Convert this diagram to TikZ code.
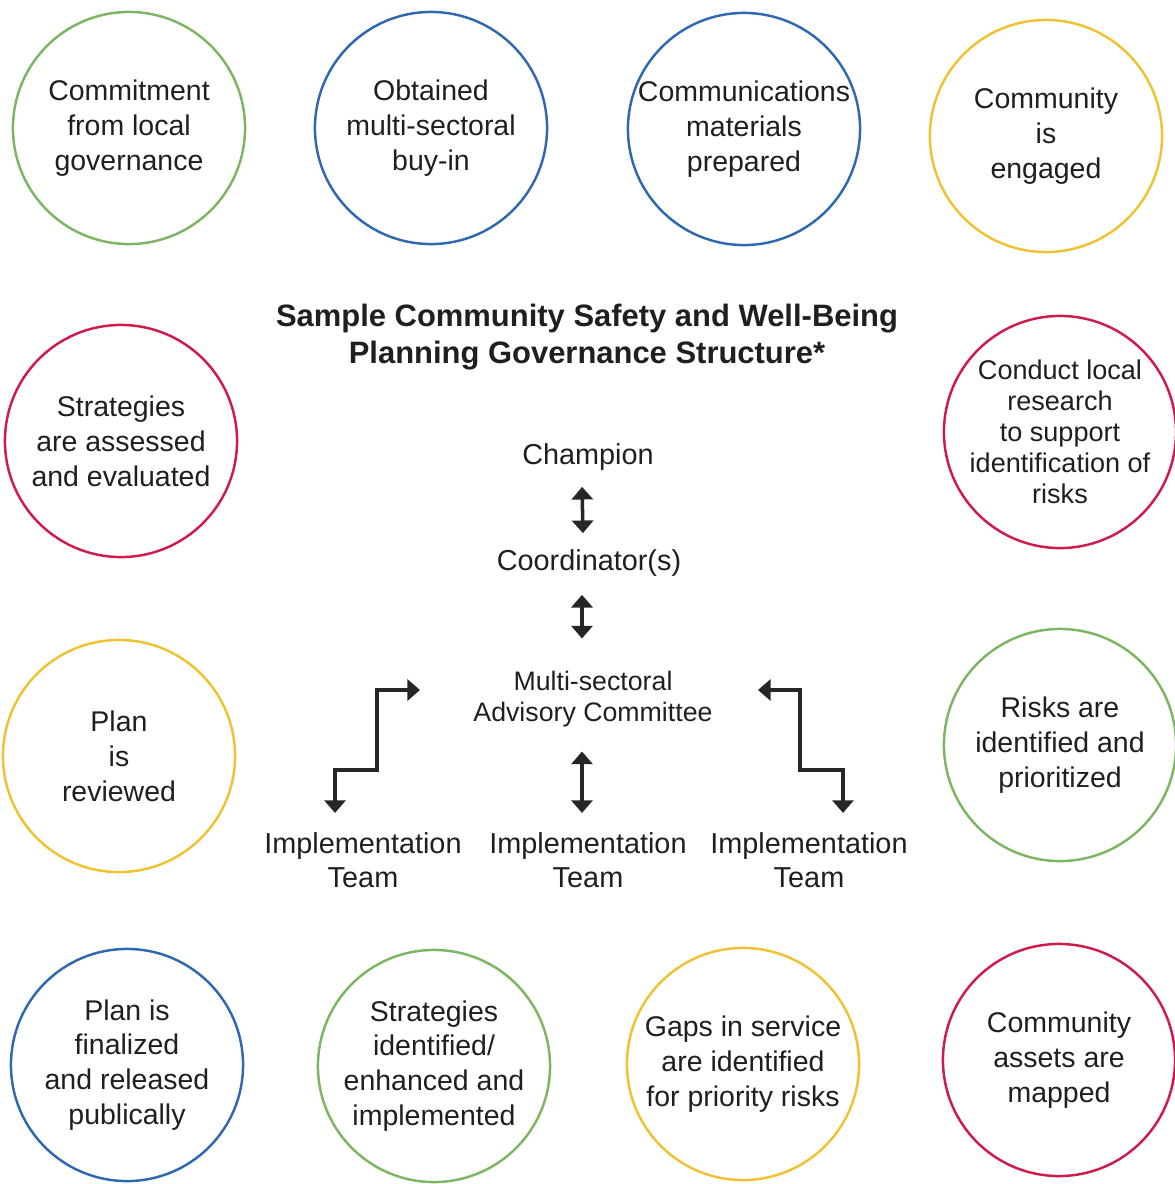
\documentclass[tikz,border=0pt]{standalone}
\usepackage{fontspec}
\setmainfont{Liberation Sans}
\usetikzlibrary{arrows.meta}

\definecolor{ringgreen}{HTML}{7DB663}
\definecolor{ringblue}{HTML}{2F68AE}
\definecolor{ringyellow}{HTML}{F0C232}
\definecolor{ringred}{HTML}{CF1A4B}

\newcommand{\ringfont}{\fontsize{8.1pt}{9.9pt}\selectfont}
\newcommand{\orgfont}{\fontsize{8.2pt}{9.7pt}\selectfont}

\begin{document}
\begin{tikzpicture}[x=0.01cm, y=-0.01cm,
    ring/.style={circle, draw=#1, line width=0.7pt, minimum size=2.32cm,
      inner sep=0pt, align=center, font=\ringfont, text=black!88},
    org/.style={align=center, font=\orgfont, text=black!88},
    dbl/.style={{Triangle[width=6pt,length=3.6pt]}-{Triangle[width=6pt,length=3.6pt]},
      line width=1pt, black!85}]

  \useasboundingbox (0,0) rectangle (1175,1184);

  %% top row
  \node (commit)  at (129,128)  [ring=ringgreen]  {Commitment\\from local\\governance};
  \node (buyin)   at (431,128)  [ring=ringblue]   {Obtained\\multi-sectoral\\buy-in};
  \node (comms)   at (744,129)  [ring=ringblue]   {Communications\\materials\\prepared};
  \node (engaged) at (1046,136) [ring=ringyellow] {Community\\is\\engaged};

  %% sides
  \node (assessed) at (121,441)  [ring=ringred]    {Strategies\\are assessed\\and evaluated};
  \node (reviewed) at (119,756)  [ring=ringyellow] {Plan\\is\\reviewed};
  \node (research) at (1060,432) [ring=ringred, font=\fontsize{7.7pt}{8.8pt}\selectfont]
    {Conduct local\\research\\to support\\identification of\\risks};
  \node (risks)    at (1060,745) [ring=ringgreen]  {Risks are\\identified and\\prioritized};

  %% bottom row
  \node (released)   at (127,1065) [ring=ringblue]   {Plan is\\finalized\\and released\\publically};
  \node (strategies) at (434,1066) [ring=ringgreen]  {Strategies\\identified/\\enhanced and\\implemented};
  \node (gaps)       at (743,1064) [ring=ringyellow] {Gaps in service\\are identified\\for priority risks};
  \node (assets)     at (1059,1060)[ring=ringred]    {Community\\assets are\\mapped};

  %% structure in the middle
  \node (title) at (587,337) [align=center, text=black!88,
      font=\fontsize{8.8pt}{10.6pt}\selectfont\bfseries]
    {Sample Community Safety and Well-Being\\Planning Governance Structure*};

  \node (champ) at (588,457) [org] {Champion};
  \node (coord) at (589,563) [org] {Coordinator(s)};
  \node (adv)   at (593,699) [align=center, text=black!88, font=\fontsize{7.6pt}{8.9pt}\selectfont]
    {Multi-sectoral\\Advisory Committee};

  \node (teamL) at (363,860) [org] {Implementation\\Team};
  \node (teamM) at (588,860) [org] {Implementation\\Team};
  \node (teamR) at (809,860) [org] {Implementation\\Team};

  \coordinate (advL) at (420,690);
  \coordinate (advR) at (758,690);

  \draw[dbl, shorten <=0.04cm, shorten >=0.04cm]
    ([xshift=-0.06cm]champ.south) -- ([xshift=-0.06cm]coord.north);
  \draw[dbl, shorten <=0.06cm, shorten >=0.2cm]
    ([xshift=-0.07cm]coord.south) -- ([xshift=-0.07cm]coord.south |- adv.north);
  \draw[dbl, shorten <=0.12cm]
    ([xshift=-0.11cm]adv.south) -- ([xshift=-0.11cm,yshift=0.07cm]adv.south |- teamM.north);

  \draw[dbl] (advL) -| (377,770) -| ([xshift=-0.28cm,yshift=0.07cm]teamL.north);
  \draw[dbl] (advR) -| (800,770) -| ([xshift=0.34cm,yshift=0.07cm]teamR.north);

\end{tikzpicture}
\end{document}
